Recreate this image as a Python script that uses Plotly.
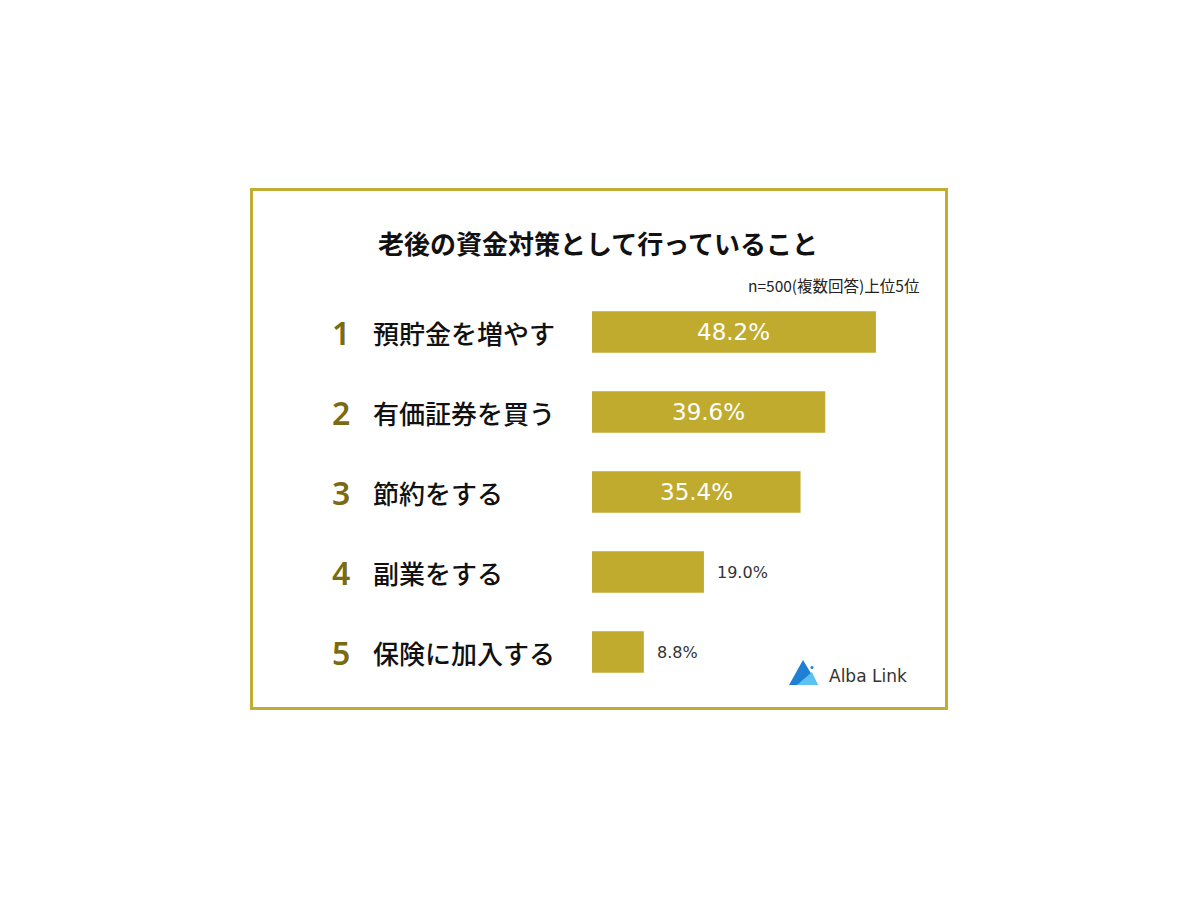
import plotly.graph_objects as go

# ---- data ----
ranks = ["1", "2", "3", "4", "5"]
categories = ["預貯金を増やす", "有価証券を買う", "節約をする", "副業をする", "保険に加入する"]
values = [48.2, 39.6, 35.4, 19.0, 8.8]
title_text = "老後の資金対策として行っていること"
note_text = "n=500(複数回答)上位5位"
brand_text = "Alba Link"

# ---- layout constants ----
W, H = 1200, 900
OFF = 8  # page body margin
L, R, T, B = 592 - OFF, 284 + OFF, 292 - OFF, 208 + OFF
XMAX = 55
PW = W - L - R
PH = H - T - B

BAR = "#C0AB2F"
RANK = "#7A6A10"
FONT = "Noto Sans CJK JP"
LAT = "DejaVu Sans"


def px(xp):
    return (xp - OFF - L) / PW


def py(yp):
    return 1 - (yp - OFF - T) / PH


ypos = list(range(len(categories)))
inside = [v >= 30 for v in values]

fig = go.Figure()
fig.add_trace(go.Bar(
    x=values, y=ypos, orientation="h", width=0.52,
    marker=dict(color=BAR, line=dict(width=0)),
    hoverinfo="skip",
))

annotations = []
for i, (rk, cat, v, ins) in enumerate(zip(ranks, categories, values, inside)):
    annotations.append(dict(x=px(341), y=i, xref="paper", yref="y", text=rk,
                            showarrow=False, xanchor="center", yanchor="middle",
                            font=dict(family="Noto Sans", size=32, color=RANK, weight=600)))
    annotations.append(dict(x=px(371), y=i, xref="paper", yref="y", text=cat,
                            showarrow=False, xanchor="left", yanchor="middle",
                            font=dict(family=FONT, size=26, color="#111111", weight=500)))
    if ins:
        annotations.append(dict(x=v / 2, y=i, xref="x", yref="y", text=f"{v:.1f}%",
                                showarrow=False, xanchor="center", yanchor="middle",
                                font=dict(family=LAT, size=23, color="white", weight=500)))
    else:
        annotations.append(dict(x=v, y=i, xref="x", yref="y", text=f"{v:.1f}%",
                                showarrow=False, xanchor="left", yanchor="middle", xshift=11,
                                font=dict(family=LAT, size=16, color="#333333")))

annotations.append(dict(x=px(598), y=py(243), xref="paper", yref="paper", text=title_text,
                        showarrow=False, xanchor="center", yanchor="middle",
                        font=dict(family=FONT, size=26, color="#111111", weight="bold")))
annotations.append(dict(x=px(921), y=py(285), xref="paper", yref="paper", text=note_text,
                        showarrow=False, xanchor="right", yanchor="middle",
                        font=dict(family=FONT, size=15.5, color="#222222")))
annotations.append(dict(x=px(827), y=py(676), xref="paper", yref="paper", text=brand_text,
                        showarrow=False, xanchor="left", yanchor="middle",
                        font=dict(family=LAT, size=17, color="#333333")))

shapes = [
    dict(type="rect", xref="paper", yref="paper", x0=px(251.5), x1=px(946.5),
         y0=py(189.5), y1=py(708.5), line=dict(color="#C2AC33", width=3), layer="below"),
    # logo icon
    dict(type="path", xref="paper", yref="paper",
         path=f"M {px(789)},{py(685)} L {px(803)},{py(660)} L {px(818)},{py(685)} Z",
         fillcolor="#1F7FD3", line=dict(width=0)),
    dict(type="path", xref="paper", yref="paper",
         path=f"M {px(797)},{py(685)} L {px(812)},{py(672)} L {px(818)},{py(685)} Z",
         fillcolor="#5CC3F0", line=dict(width=0)),
    dict(type="circle", xref="paper", yref="paper", x0=px(810.5), x1=px(813.5),
         y0=py(669), y1=py(666), fillcolor="#1F7FD3", line=dict(width=0)),
]

fig.update_layout(
    width=W, height=H,
    margin=dict(l=L, r=R, t=T, b=B, autoexpand=False),
    paper_bgcolor="white", plot_bgcolor="white",
    showlegend=False,
    xaxis=dict(range=[0, XMAX], visible=False, fixedrange=True),
    yaxis=dict(range=[len(categories) - 0.5, -0.5], visible=False, fixedrange=True),
    annotations=annotations, shapes=shapes,
)

fig.write_html("out.html")
